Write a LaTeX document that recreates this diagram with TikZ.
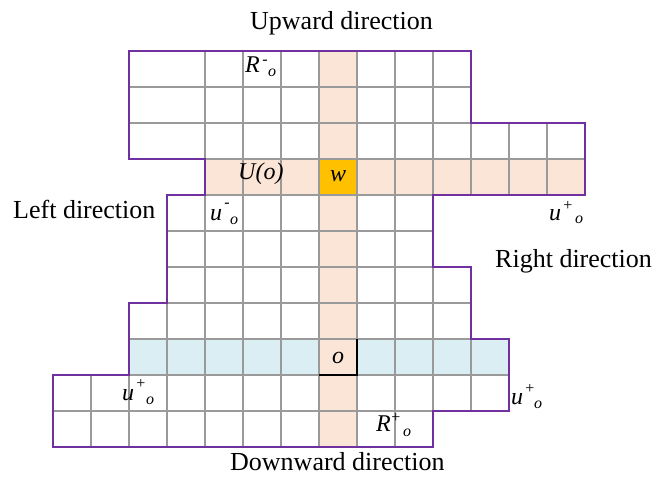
\documentclass[tikz,border=0pt]{standalone}
\usepackage{fontspec}
\setmainfont{Liberation Serif}
\definecolor{peach}{HTML}{FBE5D6}
\definecolor{lblue}{HTML}{DAEEF3}
\definecolor{gold}{HTML}{FFC000}
\definecolor{purp}{HTML}{7030A0}
\definecolor{gridc}{HTML}{9A9A9A}
\begin{document}
\begin{tikzpicture}[x=1pt,y=-1pt,
  gridline/.style={draw=gridc,line width=1.6pt},
  outline/.style={draw=purp,line width=2pt,line join=miter},
  dirlabel/.style={font=\fontsize{26}{30}\selectfont,inner sep=0pt,anchor=base west},
  mainlab/.style={font=\fontsize{24}{26}\selectfont\itshape,inner sep=0pt,anchor=base west},
  sublab/.style={font=\fontsize{16}{17}\selectfont\itshape,inner sep=0pt,anchor=base west},
  signlab/.style={font=\fontsize{16}{17}\selectfont,inner sep=0pt,anchor=center}]
\useasboundingbox (0,0) rectangle (666,484);
% fills
\fill[lblue] (129,339) rectangle (509,375);
\fill[peach] (319,51) rectangle (357,447);
\fill[peach] (205,159) rectangle (585,195);
\fill[gold] (319,159) rectangle (357,195);
% grid cells
\foreach \r/\a/\b in {0/4/10,1/4/10,2/4/13,3/4/13,4/3/9,5/3/9,6/3/10,7/2/10,8/2/11,9/0/11,10/0/9}{
  \foreach \c in {\a,...,\b}{
    \draw[gridline] ({53+38*\c},{51+36*\r}) rectangle ++(38,36);
  }
}
\foreach \r in {0,1,2}{
  \draw[gridline] (129,{51+36*\r}) rectangle ++(76,36);
}
% o cell border
\draw[black,line width=1.2pt] (357,339) -- (357,375) -- (319,375);
% outline
\draw[outline] (129,51) -- (471,51) -- (471,123) -- (585,123) -- (585,195) -- (433,195)
  -- (433,267) -- (471,267) -- (471,339) -- (509,339) -- (509,411) -- (433,411)
  -- (433,447) -- (53,447) -- (53,375) -- (129,375) -- (129,303) -- (167,303)
  -- (167,195) -- (205,195) -- (205,159) -- (129,159) -- cycle;
% direction labels
\node[dirlabel] (up) at (250,30) {Upward direction};
\node[dirlabel] (left) at (13,218) {Left direction};
\node[dirlabel] (right) at (495,267) {Right direction};
\node[dirlabel] (down) at (230,470) {Downward direction};
% cell labels
\node[mainlab] (Rm) at (245,73) {R};
\node[signlab] (Rms) at (265,62) {-};
\node[sublab] (Rmo) at (268,77) {o};
\node[mainlab] (Uo) at (238,179) {U(o)};
\node[mainlab,anchor=base] (w) at (338,181) {w};
\node[mainlab,anchor=base] (o) at (338,363) {o};
\node[mainlab] (um) at (210,220) {u};
\node[signlab] (ums) at (227,205) {-};
\node[sublab] (umo) at (230,224) {o};
\node[mainlab] (upr) at (549,220) {u};
\node[signlab] (uprs) at (568,206) {+};
\node[sublab] (upro) at (575,223) {o};
\node[mainlab] (upl) at (122,400) {u};
\node[signlab] (upls) at (141,384) {+};
\node[sublab] (uplo) at (146,404) {o};
\node[mainlab] (upb) at (511,404) {u};
\node[signlab] (upbs) at (530,389) {+};
\node[sublab] (upbo) at (534,408) {o};
\node[mainlab] (Rp) at (376,431) {R};
\node[signlab] (Rps) at (396,418) {+};
\node[sublab] (Rpo) at (403,436) {o};
\end{tikzpicture}
\end{document}
